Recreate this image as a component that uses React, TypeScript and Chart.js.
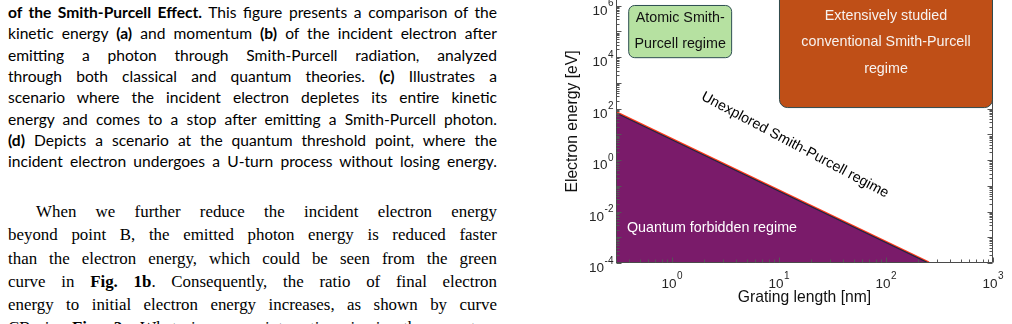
import React, { useEffect, useRef } from "react";
import { Chart, registerables } from "chart.js";

Chart.register(...registerables);

// ---------- data ----------
const gratingLength = [0.3, 250]; // nm, threshold line end points
const thresholdEnergy = [68, 1e-4]; // eV
const xRange = [0.3, 1000];
const yRange = [1e-4, 1e7];
const xTickExponents = [0, 1, 2, 3];
const yTickExponents = [-4, -2, 0, 2, 4, 6];

const xTitle = "Grating length [nm]";
const yTitle = "Electron energy [eV]";
const atomicLabel = ["Atomic Smith-", "Purcell regime"];
const conventionalLabel = ["Extensively studied", "conventional Smith-Purcell", "regime"];
const unexploredLabel = "Unexplored Smith-Purcell regime";
const forbiddenLabel = "Quantum forbidden regime";

type Seg = [string, boolean];
const para1Lines: Seg[][] = [
  [["of the Smith-Purcell Effect.", true], [" This figure presents a comparison of the", false]],
  [["kinetic energy ", false], ["(a)", true], [" and momentum ", false], ["(b)", true], [" of the incident electron after", false]],
  [["emitting a photon through Smith-Purcell radiation, analyzed", false]],
  [["through both classical and quantum theories. ", false], ["(c)", true], [" Illustrates a", false]],
  [["scenario where the incident electron depletes its entire kinetic", false]],
  [["energy and comes to a stop after emitting a Smith-Purcell photon.", false]],
  [["(d)", true], [" Depicts a scenario at the quantum threshold point, where the", false]],
  [["incident electron undergoes a U-turn process without losing energy.", false]],
];
const para2Lines: Seg[][] = [
  [["When we further reduce the incident electron energy", false]],
  [["beyond point B, the emitted photon energy is reduced faster", false]],
  [["than the electron energy, which could be seen from the green", false]],
  [["curve in ", false], ["Fig. 1b", true], [". Consequently, the ratio of final electron", false]],
  [["energy to initial electron energy increases, as shown by curve", false]],
  [["CB in ", false], ["Fig. 2", true], [". What is more interesting is in the quantum", false]],
];

const FONT = '"Liberation Sans", Arial, Helvetica, sans-serif';

const decorPlugin = {
  id: "decor",
  afterDatasetsDraw(chart: any) {
    const ctx: CanvasRenderingContext2D = chart.ctx;
    const xs = chart.scales.x;
    const ys = chart.scales.y;
    const { left, right, top, bottom } = chart.chartArea;
    const X = (v: number) => xs.getPixelForValue(v);
    const Y = (v: number) => ys.getPixelForValue(v);
    ctx.save();

    // axes box
    const L = Math.round(left) + 0.5;
    const R = Math.round(right) - 0.5;
    const B = Math.round(bottom) - 0.5;
    const T = Math.round(top) + 0.5;
    ctx.strokeStyle = "#4a4a4a";
    ctx.lineWidth = 1;
    ctx.beginPath();
    ctx.moveTo(L, T); ctx.lineTo(L, B); ctx.lineTo(R, B); ctx.lineTo(R, T); ctx.closePath();
    ctx.stroke();

    // inward ticks
    ctx.strokeStyle = "#555";
    ctx.beginPath();
    const lx0 = Math.floor(Math.log10(xRange[0])), lx1 = Math.ceil(Math.log10(xRange[1]));
    for (let e = lx0; e <= lx1; e++) {
      for (let m = 1; m <= 9; m++) {
        const v = m * Math.pow(10, e);
        if (v < xRange[0] * 0.999 || v > xRange[1] * 1.001) continue;
        const len = m === 1 ? 5 : 3;
        const px = Math.round(X(v)) + 0.5;
        ctx.moveTo(px, B); ctx.lineTo(px, B - len);
        ctx.moveTo(px, T); ctx.lineTo(px, T + len);
      }
    }
    const ly0 = Math.floor(Math.log10(yRange[0])), ly1 = Math.ceil(Math.log10(yRange[1]));
    for (let e = ly0; e <= ly1; e++) {
      for (let m = 1; m <= 9; m++) {
        const v = m * Math.pow(10, e);
        if (v < yRange[0] * 0.999 || v > yRange[1] * 1.001) continue;
        const len = m === 1 ? 5 : 3;
        const py = Math.round(Y(v)) + 0.5;
        ctx.moveTo(L, py); ctx.lineTo(L + len, py);
        ctx.moveTo(R, py); ctx.lineTo(R - len, py);
      }
    }
    ctx.stroke();

    // tick labels 10^n
    const drawPow = (e: number, x: number, y: number, align: string) => {
      const base = "10";
      const exp = String(e);
      ctx.font = `13.5px ${FONT}`;
      const wb = ctx.measureText(base).width;
      ctx.font = `10px ${FONT}`;
      const we = ctx.measureText(exp).width;
      const total = wb + 0.5 + we;
      const x0 = align === "center" ? x - total / 2 : x - total;
      ctx.fillStyle = "#262626";
      ctx.textAlign = "left";
      ctx.textBaseline = "alphabetic";
      ctx.font = `13.5px ${FONT}`;
      ctx.fillText(base, x0, y);
      ctx.font = `10px ${FONT}`;
      ctx.fillText(exp, x0 + wb + 0.5, y - 8.5);
    };
    xTickExponents.forEach((e) => drawPow(e, X(Math.pow(10, e)), bottom + 24.5, "center"));
    yTickExponents.forEach((e) => drawPow(e, left - 2.5, Y(Math.pow(10, e)) + 9, "right"));

    // annotation boxes
    const roundBox = (x1: number, x2: number, y1: number, y2: number, r: number, fill: string, stroke: string) => {
      const px1 = X(x1), px2 = X(x2), py1 = Y(y1), py2 = Y(y2);
      ctx.beginPath();
      (ctx as any).roundRect(px1 + 0.5, py2 + 0.5, px2 - px1 - 1, py1 - py2, r);
      ctx.fillStyle = fill;
      ctx.fill();
      ctx.strokeStyle = stroke;
      ctx.lineWidth = 1;
      ctx.stroke();
    };
    roundBox(0.39, 3.65, 1.0e4, 1.07e6, 6, "#b6e1a1", "#2e4f52");
    roundBox(10, 1000, 115, 3e7, 8, "#bf4f17", "#2e4a4d");

    ctx.textAlign = "center";
    ctx.textBaseline = "middle";
    ctx.font = `14.3px ${FONT}`;
    ctx.fillStyle = "#111";
    const gcx = (X(0.39) + X(3.65)) / 2;
    const gcy = (Y(1.0e4) + Y(1.07e6)) / 2;
    ctx.fillText(atomicLabel[0], gcx, gcy - 13);
    ctx.fillText(atomicLabel[1], gcx, gcy + 13);

    ctx.fillStyle = "#f7f3f0";
    const ocx = X(100);
    const oy = [4.1e5, 3.9e4, 3.6e3];
    conventionalLabel.forEach((t, i) => ctx.fillText(t, ocx, Y(oy[i])));

    ctx.fillStyle = "#ffffff";
    ctx.textAlign = "left";
    ctx.fillText(forbiddenLabel, X(0.38), Y(2.3e-3));

    ctx.save();
    ctx.translate(X(14.1), Y(3.86));
    ctx.rotate((28 * Math.PI) / 180);
    ctx.textAlign = "center";
    ctx.fillStyle = "#000";
    ctx.fillText(unexploredLabel, 0, 0);
    ctx.restore();

    ctx.restore();
  },
};

function Lines({ lines, indent }: { lines: Seg[][]; indent?: number }) {
  return (
    <>
      {lines.map((segs, i) => (
        <div
          key={i}
          style={{
            whiteSpace: "nowrap",
            textAlign: "justify",
            textAlignLast: "justify" as any,
            paddingLeft: i === 0 && indent ? indent : 0,
          }}
        >
          {segs.map(([t, b], j) => (
            <span key={j} style={{ fontWeight: b ? 700 : 400 }}>
              {t}
            </span>
          ))}
        </div>
      ))}
    </>
  );
}

export default function App() {
  const ref = useRef<HTMLCanvasElement>(null);

  useEffect(() => {
    const boundary = gratingLength.map((x, i) => ({ x, y: thresholdEnergy[i] }));
    const forbidden = [
      { x: gratingLength[0], y: yRange[0] },
      ...boundary,
      { x: gratingLength[0], y: yRange[0] },
    ];
    const chart = new Chart(ref.current as HTMLCanvasElement, {
      type: "scatter",
      data: {
        datasets: [
          {
            label: "threshold",
            data: boundary,
            showLine: true,
            borderColor: "#ff3a1c",
            borderWidth: 3.6,
            pointRadius: 0,
            fill: false,
            order: 2,
          } as any,
          {
            label: "forbidden",
            data: forbidden,
            showLine: true,
            borderColor: "#1d2640",
            borderWidth: 1.2,
            backgroundColor: "#7a1b6a",
            pointRadius: 0,
            fill: "shape",
            order: 1,
          } as any,
        ],
      },
      options: {
        responsive: false,
        animation: false,
        events: [],
        layout: { padding: { top: 20, right: 19, left: 0, bottom: 0 } },
        plugins: { legend: { display: false }, tooltip: { enabled: false } },
        scales: {
          x: {
            type: "logarithmic",
            position: "bottom",
            min: xRange[0],
            max: xRange[1],
            bounds: "data",
            grid: { display: false },
            border: { display: false },
            ticks: { display: false },
            title: {
              display: true,
              text: xTitle,
              color: "#111",
              font: { family: FONT, size: 15.7 },
              padding: { top: 0, bottom: 16.6 },
            },
            afterFit: (s: any) => {
              s.height = 61;
            },
          } as any,
          y: {
            type: "logarithmic",
            position: "left",
            min: yRange[0],
            max: yRange[1],
            bounds: "data",
            grid: { display: false },
            border: { display: false },
            ticks: { display: false },
            title: {
              display: true,
              text: yTitle,
              color: "#111",
              font: { family: FONT, size: 15.7 },
              padding: { top: 33.6, bottom: 0 },
            },
            afterFit: (s: any) => {
              s.width = 86;
            },
          } as any,
        },
      },
      plugins: [decorPlugin],
    });
    return () => chart.destroy();
  }, []);

  return (
    <div
      style={{
        position: "fixed",
        left: 0,
        top: 0,
        width: 1012,
        height: 324,
        overflow: "hidden",
        background: "#fff",
        color: "#000",
      }}
    >
      <div
        style={{
          position: "absolute",
          left: 8,
          top: 2.2,
          width: 489,
          fontFamily: "Lato, 'Open Sans', sans-serif",
          fontSize: 15.6,
          lineHeight: "21.3px",
        }}
      >
        <Lines lines={para1Lines} />
      </div>
      <div
        style={{
          position: "absolute",
          left: 8,
          top: 200.1,
          width: 489,
          fontFamily: "'Liberation Serif', 'Times New Roman', serif",
          fontSize: 16.9,
          lineHeight: "23.2px",
        }}
      >
        <Lines lines={para2Lines} indent={28} />
      </div>
      <canvas
        ref={ref}
        width={482}
        height={364}
        style={{ position: "absolute", left: 530, top: -40, width: 482, height: 364 }}
      />
    </div>
  );
}
